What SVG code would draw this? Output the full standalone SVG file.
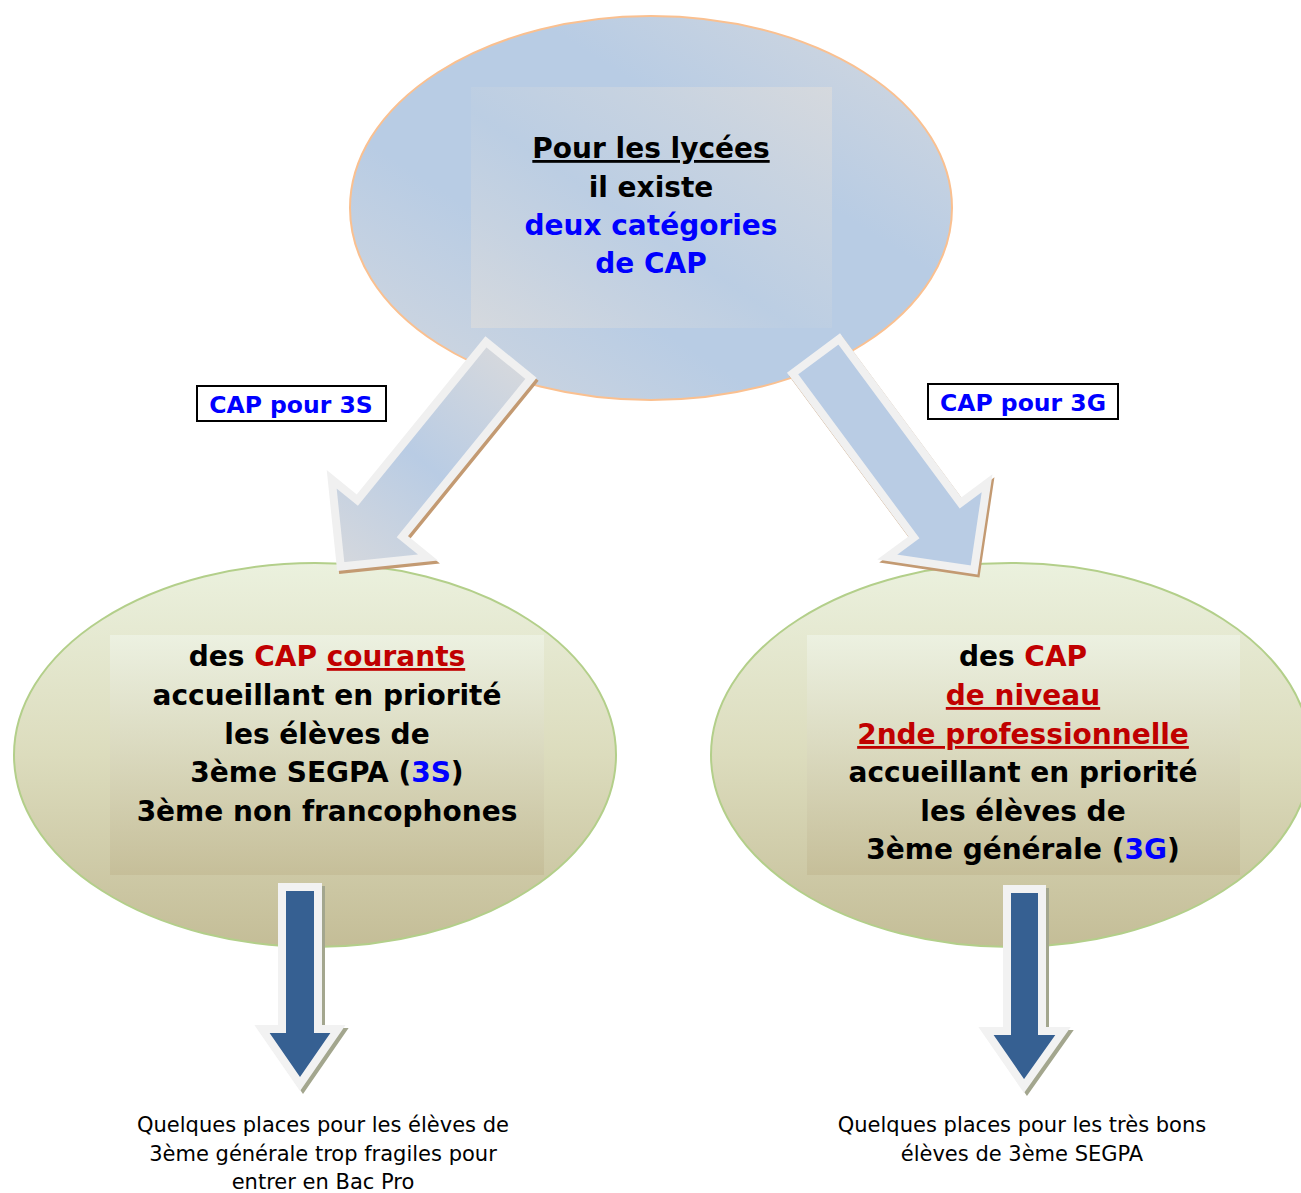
<svg xmlns="http://www.w3.org/2000/svg" xmlns:xlink="http://www.w3.org/1999/xlink" width="1301" height="1193" viewBox="0 0 1301 1193">
<style>
text{font-family:"DejaVu Sans",Verdana,sans-serif;text-anchor:middle}
.b{font-weight:bold;font-size:28px;fill:#000}
.lab{font-weight:bold;font-size:23.5px;fill:#0000ff}
.n{font-size:21px;fill:#000}
.blue{fill:#0000ff}
.red{fill:#c00000}
.u{text-decoration:underline}
.topE{fill:url(#gTop);stroke:#fac090;stroke-width:2}
.botE{fill:url(#gBot);stroke:#b3cf8a;stroke-width:2}
.box{fill:#fff;stroke:#000;stroke-width:2}
.darr{stroke:#f0f0f0;stroke-width:8;stroke-linejoin:miter}
.dsh{fill:#c39a72;stroke:#c39a72;stroke-width:8}
.varr{fill:#366092;stroke:#f2f2f2;stroke-width:8}
.vsh{fill:#a3a68e;stroke:#a3a68e;stroke-width:8}
</style>
<defs>
<linearGradient id="gTop" x1="0" y1="1" x2="1" y2="0">
<stop offset="0" stop-color="#d6d9de"/>
<stop offset="0.35" stop-color="#b8cce4"/>
<stop offset="0.65" stop-color="#b8cce4"/>
<stop offset="1" stop-color="#d6d9de"/>
</linearGradient>
<linearGradient id="gTopR" x1="0" y1="1" x2="1" y2="0">
<stop offset="0" stop-color="#d8dadd"/>
<stop offset="0.45" stop-color="#bccee3"/>
<stop offset="1" stop-color="#d8dadd"/>
</linearGradient>
<linearGradient id="gBot" x1="0" y1="0" x2="0" y2="1">
<stop offset="0" stop-color="#ebf1de"/>
<stop offset="0.5" stop-color="#dcdcbd"/>
<stop offset="1" stop-color="#c4bd97"/>
</linearGradient>
<linearGradient id="gBotR" x1="0" y1="0" x2="0" y2="1">
<stop offset="0" stop-color="#eef3e5"/>
<stop offset="1" stop-color="#c4bc96"/>
</linearGradient>
<linearGradient id="gArrL" x1="0" y1="0" x2="1" y2="0">
<stop offset="0" stop-color="#d5d8dd"/>
<stop offset="0.5" stop-color="#b9cce4"/>
<stop offset="1" stop-color="#d5d8dd"/>
</linearGradient>
<polygon id="diag" points="4,-29 208,-29 208,-62 270,0 208,62 208,29 4,29"/>
</defs>

<g id="node-top">
<ellipse class="topE" cx="651" cy="208" rx="301" ry="192"/>
<rect x="471" y="87" width="361" height="241" fill="url(#gTopR)" opacity="0.85"/>
<text class="b" x="651" y="158"><tspan class="u">Pour les lycées</tspan></text>
<text class="b" x="651" y="197">il existe</text>
<text class="b blue" x="651" y="235">deux catégories</text>
<text class="b blue" x="651" y="273">de CAP</text>
</g>

<g id="node-left">
<ellipse class="botE" cx="315" cy="755" rx="301" ry="192"/>
<rect x="110" y="635" width="434" height="240" fill="url(#gBotR)" opacity="0.8"/>
<text class="b" x="327" y="666">des <tspan class="red">CAP </tspan><tspan class="red u">courants</tspan></text>
<text class="b" x="327" y="705">accueillant en priorité</text>
<text class="b" x="327" y="744">les élèves de</text>
<text class="b" x="327" y="782">3ème SEGPA (<tspan class="blue">3S</tspan>)</text>
<text class="b" x="327" y="821">3ème non francophones</text>
</g>

<g id="node-right">
<ellipse class="botE" cx="1011" cy="755" rx="300" ry="192"/>
<rect x="807" y="635" width="433" height="240" fill="url(#gBotR)" opacity="0.8"/>
<text class="b" x="1023" y="666">des <tspan class="red">CAP</tspan></text>
<text class="b red" x="1023" y="705"><tspan class="u">de niveau</tspan></text>
<text class="b red" x="1023" y="744"><tspan class="u">2nde professionnelle</tspan></text>
<text class="b" x="1023" y="782">accueillant en priorité</text>
<text class="b" x="1023" y="821">les élèves de</text>
<text class="b" x="1023" y="859">3ème générale (<tspan class="blue">3G</tspan>)</text>
</g>

<g id="connectors">
<use xlink:href="#diag" class="dsh" transform="translate(513,360) rotate(129.1)"/>
<use xlink:href="#diag" class="darr" fill="url(#gArrL)" transform="translate(511,357) rotate(129.1)"/>
<use xlink:href="#diag" class="dsh" transform="translate(815.5,356) rotate(53.5)"/>
<use xlink:href="#diag" class="darr" fill="#b9cce4" transform="translate(813.5,353) rotate(53.5)"/>
<polygon class="vsh" points="285,890 321,890 321,1032 341,1032 303,1087 265,1032 285,1032"/>
<polygon class="varr" points="282,887 318,887 318,1029 338,1029 300,1084 262,1029 282,1029"/>
<polygon class="vsh" points="1010,892 1045,892 1045,1034 1066,1034 1027,1089 989,1034 1010,1034"/>
<polygon class="varr" points="1007,889 1042,889 1042,1031 1063,1031 1024,1086 986,1031 1007,1031"/>
</g>

<g id="label-3s">
<rect class="box" x="197" y="386" width="189" height="35"/>
<text class="lab" x="291" y="413">CAP pour 3S</text>
</g>
<g id="label-3g">
<rect class="box" x="928" y="384" width="190" height="35"/>
<text class="lab" x="1023" y="411">CAP pour 3G</text>
</g>

<g id="note-left">
<text class="n" x="323" y="1132">Quelques places pour les élèves de</text>
<text class="n" x="323" y="1161">3ème générale trop fragiles pour</text>
<text class="n" x="323" y="1189">entrer en Bac Pro</text>
</g>
<g id="note-right">
<text class="n" x="1022" y="1132">Quelques places pour les très bons</text>
<text class="n" x="1022" y="1161">élèves de 3ème SEGPA</text>
</g>
</svg>
